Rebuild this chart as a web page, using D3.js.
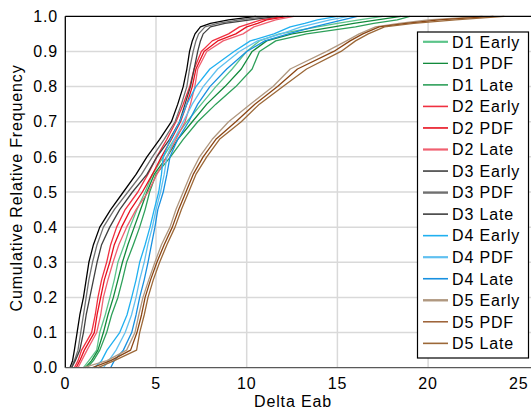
<!DOCTYPE html>
<html>
<head>
<meta charset="utf-8">
<script src="https://cdn.jsdelivr.net/npm/d3@7"></script>
<style>
  body { margin: 0; background: #fff; }
  svg { display: block; font-family: "Liberation Sans", Arial, sans-serif; }
  svg text { letter-spacing: 0.85px; }
</style>
</head>
<body>
<svg id="chart" width="531" height="411"></svg>
<script>
// cumulative levels at which each curve's Delta Eab was read
const levels = [0, 0.02, 0.05, 0.1, 0.15, 0.2, 0.25, 0.3, 0.35, 0.4, 0.45, 0.5, 0.55,
  0.6, 0.65, 0.7, 0.75, 0.8, 0.85, 0.9, 0.93, 0.95, 0.97, 0.98, 0.99, 1.0];

const seriesNames = ["D1 Early", "D1 PDF", "D1 Late", "D2 Early", "D2 PDF", "D2 Late",
  "D3 Early", "D3 PDF", "D3 Late", "D4 Early", "D4 PDF", "D4 Late",
  "D5 Early", "D5 PDF", "D5 Late"];

const d1Early = [1.0, 1.3, 1.73, 1.9, 2.2, 2.46, 2.7, 2.9, 3.25, 3.56, 3.95, 4.4, 4.8, 5.4, 6.0, 6.7, 7.5, 8.3, 9.2, 10.0, 10.7, 11.8, 13.9, 15.0, 16.2, 17.5];
const d1Pdf   = [1.1, 1.45, 1.8, 2.1, 2.35, 2.65, 2.9, 3.15, 3.45, 3.8, 4.15, 4.5, 4.9, 5.6, 6.2, 7.0, 7.8, 8.8, 9.7, 10.3, 11.1, 12.5, 14.8, 15.9, 17.2, 18.5];
const d1Late  = [1.2, 1.55, 1.9, 2.28, 2.55, 2.9, 3.15, 3.38, 3.75, 4.1, 4.4, 4.65, 5.0, 5.8, 6.5, 7.3, 8.3, 9.4, 10.3, 10.7, 11.6, 13.3, 16.0, 17.0, 18.3, 19.0];

const d2Early = [0.5, 0.7, 0.9, 1.45, 1.65, 1.8, 2.0, 2.28, 2.5, 2.83, 3.3, 4.0, 4.55, 5.04, 5.6, 6.1, 6.5, 6.86, 7.1, 7.5, 8.1, 9.0, 9.6, 10.2, 10.8, 12.0];
const d2Pdf   = [0.6, 0.8, 1.05, 1.6, 1.75, 1.95, 2.15, 2.45, 2.7, 3.1, 3.6, 4.25, 4.8, 5.3, 5.85, 6.35, 6.7, 7.0, 7.2, 7.65, 8.4, 9.4, 10.0, 10.6, 11.1, 12.3];
const d2Late  = [0.7, 0.9, 1.2, 1.73, 1.95, 2.1, 2.35, 2.63, 2.95, 3.38, 3.9, 4.56, 5.05, 5.59, 6.1, 6.6, 6.9, 7.14, 7.3, 7.8, 8.7, 9.8, 10.4, 11.0, 11.6, 12.6];

const d3Early = [0.26, 0.4, 0.5, 0.65, 0.8, 1.0, 1.15, 1.3, 1.55, 1.9, 2.5, 3.2, 3.9, 4.5, 5.2, 5.85, 6.2, 6.5, 6.7, 6.85, 7.0, 7.15, 7.45, 8.0, 9.0, 10.5];
const d3Pdf   = [0.3, 0.5, 0.7, 0.85, 1.0, 1.15, 1.3, 1.5, 1.75, 2.1, 2.7, 3.45, 4.2, 4.8, 5.45, 6.05, 6.4, 6.7, 6.85, 7.05, 7.2, 7.35, 7.7, 8.4, 9.6, 11.2];
const d3Late  = [0.35, 0.55, 0.8, 1.0, 1.15, 1.35, 1.55, 1.75, 2.0, 2.45, 3.0, 3.7, 4.5, 5.05, 5.75, 6.3, 6.6, 6.9, 7.1, 7.3, 7.45, 7.6, 8.0, 8.8, 10.2, 11.7];

const d4Early = [1.6, 2.0, 2.3, 3.0, 3.4, 3.66, 3.9, 4.1, 4.4, 4.67, 4.9, 5.15, 5.3, 5.4, 5.8, 6.3, 6.7, 7.2, 7.97, 9.3, 10.2, 11.5, 12.4, 13.2, 13.9, 15.0];
const d4Pdf   = [2.1, 2.4, 2.8, 3.3, 3.65, 3.9, 4.1, 4.35, 4.55, 4.8, 5.0, 5.25, 5.45, 5.6, 6.0, 6.5, 7.0, 7.6, 8.4, 9.6, 10.6, 11.9, 13.0, 13.8, 14.6, 15.6];
const d4Late  = [2.5, 2.7, 3.2, 3.66, 3.9, 4.1, 4.35, 4.56, 4.75, 4.94, 5.1, 5.4, 5.6, 5.77, 6.2, 6.8, 7.3, 7.97, 8.9, 10.0, 11.0, 12.3, 13.7, 14.5, 15.3, 16.1];

const d5Early = [1.0, 2.3, 3.38, 3.84, 4.05, 4.28, 4.6, 4.94, 5.3, 5.77, 6.1, 6.5, 6.9, 7.4, 8.1, 9.0, 10.2, 11.45, 12.4, 14.4, 15.5, 16.2, 17.1, 18.4, 20.0, 23.0];
const d5Pdf   = [1.5, 2.5, 3.6, 3.95, 4.2, 4.4, 4.7, 5.05, 5.45, 5.9, 6.25, 6.65, 7.05, 7.6, 8.3, 9.4, 10.45, 11.7, 12.8, 14.8, 15.7, 16.4, 17.3, 18.8, 20.6, 23.6];
const d5Late  = [1.8, 2.7, 3.93, 4.1, 4.35, 4.56, 4.85, 5.2, 5.6, 6.05, 6.4, 6.8, 7.2, 7.8, 8.5, 9.7, 10.7, 12.0, 13.3, 15.2, 16.0, 16.7, 17.6, 19.2, 21.5, 24.2];

const seriesValues = [d1Early, d1Pdf, d1Late, d2Early, d2Pdf, d2Late,
  d3Early, d3Pdf, d3Late, d4Early, d4Pdf, d4Late, d5Early, d5Pdf, d5Late];

const seriesColors = ["#5cc48a", "#128a3c", "#2ea05a", "#f03040", "#e8101e", "#f06070",
  "#000000", "#707070", "#404040", "#20b0f0", "#60c0f0", "#1890e0",
  "#b09880", "#8b4513", "#9c6838"];
const legendWidths = [2.2, 1.3, 1.6, 1.6, 1.6, 2.2, 1.2, 2.4, 1.6, 1.6, 2.2, 1.6, 2.4, 1.3, 1.6];

const xTicks = [0, 5, 10, 15, 20, 25];
const yTicks = [0, 0.1, 0.2, 0.3, 0.4, 0.5, 0.6, 0.7, 0.8, 0.9, 1.0];

const svg = d3.select("#chart");
const plotLeft = 65.3, plotTop = 16.3, plotBottom = 367.7, plotRight = 531;

const x = d3.scaleLinear().domain([0, 25]).range([plotLeft, 518.8]);
const y = d3.scaleLinear().domain([0, 1]).range([plotBottom, plotTop]);

// gridlines
svg.append("g")
  .selectAll("line")
  .data(xTicks.filter(d => d > 0 && d < 25))
  .join("line")
  .attr("x1", d => x(d)).attr("x2", d => x(d))
  .attr("y1", plotTop).attr("y2", plotBottom)
  .attr("stroke", "#d9d9d9").attr("stroke-width", 1.5);

svg.append("g")
  .selectAll("line")
  .data(yTicks.filter(d => d > 0 && d < 1))
  .join("line")
  .attr("x1", plotLeft).attr("x2", plotRight)
  .attr("y1", d => y(d)).attr("y2", d => y(d))
  .attr("stroke", "#d9d9d9").attr("stroke-width", 1.5);

// curves
const line = d3.line()
  .x(d => x(d[0]))
  .y(d => y(d[1]));

svg.append("g")
  .selectAll("path")
  .data(seriesValues)
  .join("path")
  .attr("d", vals => line(vals.map((v, i) => [v, levels[i]])))
  .attr("fill", "none")
  .attr("stroke", (d, i) => seriesColors[i])
  .attr("stroke-width", 1.3)
  .attr("stroke-linejoin", "round");

// frame
svg.append("line").attr("x1", plotLeft).attr("x2", plotRight).attr("y1", plotTop).attr("y2", plotTop)
  .attr("stroke", "#000").attr("stroke-width", 1.3);
svg.append("line").attr("x1", plotLeft).attr("x2", plotLeft).attr("y1", plotTop).attr("y2", plotBottom)
  .attr("stroke", "#000").attr("stroke-width", 1.3);
svg.append("line").attr("x1", plotLeft).attr("x2", plotRight).attr("y1", plotBottom).attr("y2", plotBottom)
  .attr("stroke", "#595959").attr("stroke-width", 1.3);

// tick labels
svg.append("g")
  .selectAll("text")
  .data(yTicks)
  .join("text")
  .attr("x", 58)
  .attr("y", d => y(d))
  .attr("dy", "0.36em")
  .attr("text-anchor", "end")
  .attr("font-size", 16)
  .attr("fill", "#000")
  .text(d => d3.format(".1f")(d));

svg.append("g")
  .selectAll("text")
  .data(xTicks)
  .join("text")
  .attr("x", d => x(d))
  .attr("y", 389)
  .attr("text-anchor", "middle")
  .attr("font-size", 16)
  .attr("fill", "#000")
  .text(d => d);

// axis titles
svg.append("text")
  .attr("x", 293).attr("y", 407)
  .attr("text-anchor", "middle")
  .attr("font-size", 16)
  .text("Delta Eab");

svg.append("text")
  .attr("transform", "translate(22,188) rotate(-90)")
  .attr("text-anchor", "middle")
  .attr("font-size", 16)
  .text("Cumulative Relative Frequency");

// legend
const legend = svg.append("g");
legend.append("rect")
  .attr("x", 417.5).attr("y", 32).attr("width", 111).attr("height", 326)
  .attr("fill", "#fff").attr("stroke", "#000").attr("stroke-width", 1.2);

const rowY = i => 41.8 + i * 21.54;
const rows = legend.selectAll("g.row")
  .data(seriesNames)
  .join("g")
  .attr("class", "row");

rows.append("line")
  .attr("x1", 423).attr("x2", 448)
  .attr("y1", (d, i) => rowY(i)).attr("y2", (d, i) => rowY(i))
  .attr("stroke", (d, i) => seriesColors[i])
  .attr("stroke-width", (d, i) => legendWidths[i]);

rows.append("text")
  .attr("x", 452)
  .attr("y", (d, i) => rowY(i))
  .attr("dy", "0.36em")
  .attr("font-size", 16)
  .text(d => d);
</script>
</body>
</html>
